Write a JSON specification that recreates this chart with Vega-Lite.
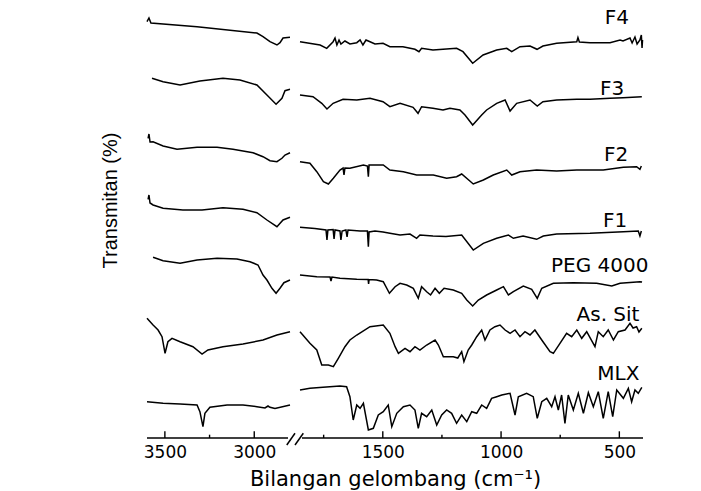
{
  "$schema": "https://vega.github.io/schema/vega-lite/v6.json",
  "width": 496,
  "height": 438,
  "autosize": "none",
  "padding": {"left": 147, "top": 0, "right": 58, "bottom": 53},
  "background": "white",
  "config": {"view": {"stroke": null}, "axis": {"grid": false}},
  "datasets": {
    "spectra": [
      {"s":"F4","p":"L","w":3600,"t":416.3},{"s":"F4","p":"L","w":3589,"t":420},{"s":"F4","p":"L","w":3578,"t":415},{"s":"F4","p":"L","w":3320,"t":411.2},{"s":"F4","p":"L","w":2985,"t":405},{"s":"F4","p":"L","w":2951,"t":401.3},{"s":"F4","p":"L","w":2912,"t":396.3},{"s":"F4","p":"L","w":2873,"t":393},{"s":"F4","p":"L","w":2856,"t":395.3},{"s":"F4","p":"L","w":2839,"t":400},{"s":"F4","p":"L","w":2800,"t":400.7},
      {"s":"F4","p":"R","w":1850,"t":396.3},{"s":"F4","p":"R","w":1765,"t":393},{"s":"F4","p":"R","w":1737,"t":389.7},{"s":"F4","p":"R","w":1710,"t":396.3},{"s":"F4","p":"R","w":1702,"t":400},{"s":"F4","p":"R","w":1694,"t":393},{"s":"F4","p":"R","w":1685,"t":398},{"s":"F4","p":"R","w":1677,"t":394},{"s":"F4","p":"R","w":1660,"t":397},{"s":"F4","p":"R","w":1639,"t":394},{"s":"F4","p":"R","w":1610,"t":395.3},{"s":"F4","p":"R","w":1596,"t":398},{"s":"F4","p":"R","w":1584,"t":393},{"s":"F4","p":"R","w":1571,"t":398},{"s":"F4","p":"R","w":1554,"t":396.3},{"s":"F4","p":"R","w":1533,"t":394},{"s":"F4","p":"R","w":1499,"t":394.7},{"s":"F4","p":"R","w":1470,"t":391.3},{"s":"F4","p":"R","w":1415,"t":391.3},{"s":"F4","p":"R","w":1364,"t":388.7},{"s":"F4","p":"R","w":1347,"t":386.3},{"s":"F4","p":"R","w":1336,"t":389.7},{"s":"F4","p":"R","w":1288,"t":388},{"s":"F4","p":"R","w":1245.5,"t":388.7},{"s":"F4","p":"R","w":1188,"t":389.7},{"s":"F4","p":"R","w":1161,"t":386.3},{"s":"F4","p":"R","w":1120,"t":374.7},{"s":"F4","p":"R","w":1076,"t":383},{"s":"F4","p":"R","w":1018.5,"t":388},{"s":"F4","p":"R","w":976,"t":389.7},{"s":"F4","p":"R","w":955,"t":386.3},{"s":"F4","p":"R","w":920,"t":391.3},{"s":"F4","p":"R","w":877.7,"t":392},{"s":"F4","p":"R","w":848,"t":388.7},{"s":"F4","p":"R","w":823,"t":392},{"s":"F4","p":"R","w":765,"t":394.7},{"s":"F4","p":"R","w":680,"t":396.3},{"s":"F4","p":"R","w":675,"t":400.5},{"s":"F4","p":"R","w":669,"t":396},{"s":"F4","p":"R","w":624,"t":395.3},{"s":"F4","p":"R","w":539.5,"t":395.3},{"s":"F4","p":"R","w":497,"t":398},{"s":"F4","p":"R","w":484.5,"t":397},{"s":"F4","p":"R","w":455,"t":400},{"s":"F4","p":"R","w":446,"t":395},{"s":"F4","p":"R","w":434,"t":401},{"s":"F4","p":"R","w":425,"t":394},{"s":"F4","p":"R","w":413,"t":398},{"s":"F4","p":"R","w":407,"t":403},{"s":"F4","p":"R","w":404,"t":390},{"s":"F4","p":"R","w":402,"t":398},

      {"s":"F3","p":"L","w":3572,"t":359.7},{"s":"F3","p":"L","w":3510,"t":356.3},{"s":"F3","p":"L","w":3415,"t":353},{"s":"F3","p":"L","w":3304,"t":357},{"s":"F3","p":"L","w":3175,"t":359.7},{"s":"F3","p":"L","w":3080,"t":358},{"s":"F3","p":"L","w":2985,"t":353},{"s":"F3","p":"L","w":2929,"t":343},{"s":"F3","p":"L","w":2878,"t":333.7},{"s":"F3","p":"L","w":2845,"t":339.7},{"s":"F3","p":"L","w":2828,"t":347.3},{"s":"F3","p":"L","w":2800,"t":348.7},
      {"s":"F3","p":"R","w":1850,"t":343},{"s":"F3","p":"R","w":1795,"t":341.3},{"s":"F3","p":"R","w":1758,"t":334.7},{"s":"F3","p":"R","w":1736,"t":329},{"s":"F3","p":"R","w":1710,"t":334.7},{"s":"F3","p":"R","w":1668,"t":338.7},{"s":"F3","p":"R","w":1610,"t":338},{"s":"F3","p":"R","w":1554,"t":339.7},{"s":"F3","p":"R","w":1499,"t":336.3},{"s":"F3","p":"R","w":1470,"t":331.3},{"s":"F3","p":"R","w":1427,"t":334.7},{"s":"F3","p":"R","w":1372,"t":330.7},{"s":"F3","p":"R","w":1351,"t":324.7},{"s":"F3","p":"R","w":1336,"t":331.3},{"s":"F3","p":"R","w":1288,"t":329.7},{"s":"F3","p":"R","w":1245.5,"t":328},{"s":"F3","p":"R","w":1216,"t":329.7},{"s":"F3","p":"R","w":1174,"t":328},{"s":"F3","p":"R","w":1152.5,"t":323},{"s":"F3","p":"R","w":1120,"t":313},{"s":"F3","p":"R","w":1082,"t":323},{"s":"F3","p":"R","w":1061,"t":328},{"s":"F3","p":"R","w":1018.5,"t":334.7},{"s":"F3","p":"R","w":983,"t":338},{"s":"F3","p":"R","w":962,"t":327},{"s":"F3","p":"R","w":934,"t":334.7},{"s":"F3","p":"R","w":877.7,"t":338},{"s":"F3","p":"R","w":847,"t":332},{"s":"F3","p":"R","w":823,"t":336.3},{"s":"F3","p":"R","w":765,"t":338},{"s":"F3","p":"R","w":680,"t":338.7},{"s":"F3","p":"R","w":624,"t":338.7},{"s":"F3","p":"R","w":539.5,"t":339.7},{"s":"F3","p":"R","w":484.5,"t":340.3},{"s":"F3","p":"R","w":405,"t":341.3},

      {"s":"F2","p":"L","w":3594,"t":299.7},{"s":"F2","p":"L","w":3589,"t":304},{"s":"F2","p":"L","w":3583,"t":296},{"s":"F2","p":"L","w":3566,"t":296.3},{"s":"F2","p":"L","w":3510,"t":292},{"s":"F2","p":"L","w":3432,"t":288.7},{"s":"F2","p":"L","w":3320,"t":290.7},{"s":"F2","p":"L","w":3208,"t":290.7},{"s":"F2","p":"L","w":3119,"t":288.7},{"s":"F2","p":"L","w":3007,"t":285.3},{"s":"F2","p":"L","w":2951,"t":281.3},{"s":"F2","p":"L","w":2912,"t":277.3},{"s":"F2","p":"L","w":2873,"t":276.3},{"s":"F2","p":"L","w":2845,"t":279.7},{"s":"F2","p":"L","w":2828,"t":283},{"s":"F2","p":"L","w":2800,"t":285.3},
      {"s":"F2","p":"R","w":1850,"t":276.3},{"s":"F2","p":"R","w":1808,"t":274.7},{"s":"F2","p":"R","w":1779,"t":266.3},{"s":"F2","p":"R","w":1751,"t":256.3},{"s":"F2","p":"R","w":1730,"t":254},{"s":"F2","p":"R","w":1709,"t":259.7},{"s":"F2","p":"R","w":1681,"t":268},{"s":"F2","p":"R","w":1668,"t":270},{"s":"F2","p":"R","w":1664,"t":263},{"s":"F2","p":"R","w":1660,"t":270},{"s":"F2","p":"R","w":1639,"t":269.7},{"s":"F2","p":"R","w":1582,"t":273},{"s":"F2","p":"R","w":1565,"t":272},{"s":"F2","p":"R","w":1561,"t":261.3},{"s":"F2","p":"R","w":1558,"t":273},{"s":"F2","p":"R","w":1498,"t":273},{"s":"F2","p":"R","w":1470,"t":268},{"s":"F2","p":"R","w":1413,"t":266.3},{"s":"F2","p":"R","w":1357,"t":263},{"s":"F2","p":"R","w":1286.5,"t":263},{"s":"F2","p":"R","w":1230,"t":259.7},{"s":"F2","p":"R","w":1188,"t":261.3},{"s":"F2","p":"R","w":1166.5,"t":264},{"s":"F2","p":"R","w":1117.5,"t":254},{"s":"F2","p":"R","w":1075,"t":258},{"s":"F2","p":"R","w":1033,"t":263},{"s":"F2","p":"R","w":976,"t":268},{"s":"F2","p":"R","w":955,"t":263},{"s":"F2","p":"R","w":920,"t":266.3},{"s":"F2","p":"R","w":849.5,"t":268},{"s":"F2","p":"R","w":765,"t":267},{"s":"F2","p":"R","w":680,"t":268},{"s":"F2","p":"R","w":568,"t":268},{"s":"F2","p":"R","w":483,"t":270.7},{"s":"F2","p":"R","w":427,"t":271.3},{"s":"F2","p":"R","w":413,"t":268.7},{"s":"F2","p":"R","w":407,"t":272},

      {"s":"F1","p":"L","w":3594,"t":238.7},{"s":"F1","p":"L","w":3589,"t":243},{"s":"F1","p":"L","w":3583,"t":235},{"s":"F1","p":"L","w":3566,"t":233},{"s":"F1","p":"L","w":3510,"t":229.7},{"s":"F1","p":"L","w":3399,"t":228},{"s":"F1","p":"L","w":3292,"t":228},{"s":"F1","p":"L","w":3175,"t":230.3},{"s":"F1","p":"L","w":3063,"t":228.7},{"s":"F1","p":"L","w":2985,"t":225.3},{"s":"F1","p":"L","w":2929,"t":218},{"s":"F1","p":"L","w":2873,"t":211.3},{"s":"F1","p":"L","w":2839,"t":218},{"s":"F1","p":"L","w":2800,"t":220.7},
      {"s":"F1","p":"R","w":1850,"t":210.7},{"s":"F1","p":"R","w":1787,"t":209.5},{"s":"F1","p":"R","w":1740,"t":208},{"s":"F1","p":"R","w":1736,"t":198},{"s":"F1","p":"R","w":1732,"t":208},{"s":"F1","p":"R","w":1710,"t":208.5},{"s":"F1","p":"R","w":1706,"t":199},{"s":"F1","p":"R","w":1702,"t":208},{"s":"F1","p":"R","w":1681,"t":207},{"s":"F1","p":"R","w":1677,"t":198},{"s":"F1","p":"R","w":1672,"t":207},{"s":"F1","p":"R","w":1656,"t":208},{"s":"F1","p":"R","w":1651,"t":201},{"s":"F1","p":"R","w":1647,"t":208},{"s":"F1","p":"R","w":1596,"t":207},{"s":"F1","p":"R","w":1565,"t":207},{"s":"F1","p":"R","w":1561,"t":191.3},{"s":"F1","p":"R","w":1558,"t":206},{"s":"F1","p":"R","w":1533,"t":207},{"s":"F1","p":"R","w":1499,"t":206},{"s":"F1","p":"R","w":1470,"t":204.7},{"s":"F1","p":"R","w":1427,"t":203},{"s":"F1","p":"R","w":1385,"t":204},{"s":"F1","p":"R","w":1357,"t":199.7},{"s":"F1","p":"R","w":1343,"t":203},{"s":"F1","p":"R","w":1288,"t":202},{"s":"F1","p":"R","w":1233,"t":201.5},{"s":"F1","p":"R","w":1166.5,"t":203},{"s":"F1","p":"R","w":1117.5,"t":188},{"s":"F1","p":"R","w":1075,"t":194.7},{"s":"F1","p":"R","w":1018.5,"t":199.7},{"s":"F1","p":"R","w":969,"t":203},{"s":"F1","p":"R","w":948,"t":199.7},{"s":"F1","p":"R","w":907,"t":202},{"s":"F1","p":"R","w":849.5,"t":198.7},{"s":"F1","p":"R","w":821.5,"t":202},{"s":"F1","p":"R","w":765,"t":204},{"s":"F1","p":"R","w":624,"t":204.7},{"s":"F1","p":"R","w":483,"t":206.3},{"s":"F1","p":"R","w":420,"t":207},{"s":"F1","p":"R","w":413,"t":202},{"s":"F1","p":"R","w":407,"t":207},

      {"s":"PEG 4000","p":"L","w":3566,"t":180.7},{"s":"PEG 4000","p":"L","w":3510,"t":177.3},{"s":"PEG 4000","p":"L","w":3415,"t":174.7},{"s":"PEG 4000","p":"L","w":3320,"t":178},{"s":"PEG 4000","p":"L","w":3208,"t":179.7},{"s":"PEG 4000","p":"L","w":3097,"t":179},{"s":"PEG 4000","p":"L","w":3024,"t":176.3},{"s":"PEG 4000","p":"L","w":2979,"t":173},{"s":"PEG 4000","p":"L","w":2951,"t":163},{"s":"PEG 4000","p":"L","w":2929,"t":158},{"s":"PEG 4000","p":"L","w":2901,"t":149.7},{"s":"PEG 4000","p":"L","w":2878,"t":144.7},{"s":"PEG 4000","p":"L","w":2856,"t":149.7},{"s":"PEG 4000","p":"L","w":2834,"t":155.3},{"s":"PEG 4000","p":"L","w":2800,"t":158},
      {"s":"PEG 4000","p":"R","w":1850,"t":163},{"s":"PEG 4000","p":"R","w":1779,"t":161.3},{"s":"PEG 4000","p":"R","w":1723,"t":161},{"s":"PEG 4000","p":"R","w":1719,"t":157},{"s":"PEG 4000","p":"R","w":1715,"t":161},{"s":"PEG 4000","p":"R","w":1681,"t":159.7},{"s":"PEG 4000","p":"R","w":1610,"t":158.7},{"s":"PEG 4000","p":"R","w":1562,"t":158.5},{"s":"PEG 4000","p":"R","w":1560,"t":154},{"s":"PEG 4000","p":"R","w":1558,"t":158.5},{"s":"PEG 4000","p":"R","w":1526,"t":158},{"s":"PEG 4000","p":"R","w":1498,"t":156.3},{"s":"PEG 4000","p":"R","w":1472,"t":144.7},{"s":"PEG 4000","p":"R","w":1448,"t":151.3},{"s":"PEG 4000","p":"R","w":1427,"t":154.7},{"s":"PEG 4000","p":"R","w":1399,"t":153},{"s":"PEG 4000","p":"R","w":1371,"t":149.7},{"s":"PEG 4000","p":"R","w":1350,"t":139.7},{"s":"PEG 4000","p":"R","w":1336,"t":151.3},{"s":"PEG 4000","p":"R","w":1314.5,"t":146.3},{"s":"PEG 4000","p":"R","w":1298,"t":143},{"s":"PEG 4000","p":"R","w":1279,"t":149.7},{"s":"PEG 4000","p":"R","w":1261,"t":144.7},{"s":"PEG 4000","p":"R","w":1241,"t":149.7},{"s":"PEG 4000","p":"R","w":1202,"t":148},{"s":"PEG 4000","p":"R","w":1166.5,"t":144.7},{"s":"PEG 4000","p":"R","w":1145,"t":138},{"s":"PEG 4000","p":"R","w":1120,"t":132},{"s":"PEG 4000","p":"R","w":1096,"t":138},{"s":"PEG 4000","p":"R","w":1061,"t":143},{"s":"PEG 4000","p":"R","w":1018.5,"t":148},{"s":"PEG 4000","p":"R","w":990,"t":151.3},{"s":"PEG 4000","p":"R","w":969,"t":143},{"s":"PEG 4000","p":"R","w":948,"t":146.3},{"s":"PEG 4000","p":"R","w":906,"t":152},{"s":"PEG 4000","p":"R","w":870.5,"t":148.7},{"s":"PEG 4000","p":"R","w":847,"t":139.7},{"s":"PEG 4000","p":"R","w":828,"t":149.7},{"s":"PEG 4000","p":"R","w":779,"t":154.7},{"s":"PEG 4000","p":"R","w":694.5,"t":155.3},{"s":"PEG 4000","p":"R","w":596,"t":154.7},{"s":"PEG 4000","p":"R","w":532,"t":152},{"s":"PEG 4000","p":"R","w":497,"t":154.7},{"s":"PEG 4000","p":"R","w":413,"t":156.3},{"s":"PEG 4000","p":"R","w":404,"t":156},

      {"s":"As. Sit","p":"L","w":3600,"t":119.7},{"s":"As. Sit","p":"L","w":3566,"t":113},{"s":"As. Sit","p":"L","w":3538,"t":108},{"s":"As. Sit","p":"L","w":3516,"t":101.3},{"s":"As. Sit","p":"L","w":3499,"t":84.7},{"s":"As. Sit","p":"L","w":3483,"t":96.3},{"s":"As. Sit","p":"L","w":3460,"t":99.7},{"s":"As. Sit","p":"L","w":3415,"t":96.3},{"s":"As. Sit","p":"L","w":3343,"t":91.3},{"s":"As. Sit","p":"L","w":3292,"t":84},{"s":"As. Sit","p":"L","w":3259,"t":88},{"s":"As. Sit","p":"L","w":3175,"t":91.3},{"s":"As. Sit","p":"L","w":3063,"t":94},{"s":"As. Sit","p":"L","w":2951,"t":98},{"s":"As. Sit","p":"L","w":2873,"t":103},{"s":"As. Sit","p":"L","w":2800,"t":106.3},
      {"s":"As. Sit","p":"R","w":1850,"t":106.3},{"s":"As. Sit","p":"R","w":1808,"t":94.7},{"s":"As. Sit","p":"R","w":1779,"t":88},{"s":"As. Sit","p":"R","w":1758,"t":73},{"s":"As. Sit","p":"R","w":1730,"t":73},{"s":"As. Sit","p":"R","w":1709,"t":71.3},{"s":"As. Sit","p":"R","w":1688,"t":79.7},{"s":"As. Sit","p":"R","w":1660,"t":91.3},{"s":"As. Sit","p":"R","w":1639,"t":98},{"s":"As. Sit","p":"R","w":1610,"t":103},{"s":"As. Sit","p":"R","w":1554,"t":111.3},{"s":"As. Sit","p":"R","w":1498,"t":113},{"s":"As. Sit","p":"R","w":1470,"t":104.7},{"s":"As. Sit","p":"R","w":1448,"t":91.3},{"s":"As. Sit","p":"R","w":1434,"t":84.7},{"s":"As. Sit","p":"R","w":1406,"t":89.7},{"s":"As. Sit","p":"R","w":1385,"t":86.3},{"s":"As. Sit","p":"R","w":1364,"t":91.3},{"s":"As. Sit","p":"R","w":1343,"t":88},{"s":"As. Sit","p":"R","w":1314.5,"t":93},{"s":"As. Sit","p":"R","w":1279,"t":98},{"s":"As. Sit","p":"R","w":1265,"t":93},{"s":"As. Sit","p":"R","w":1244,"t":81.3},{"s":"As. Sit","p":"R","w":1202,"t":81.3},{"s":"As. Sit","p":"R","w":1183,"t":80},{"s":"As. Sit","p":"R","w":1166.5,"t":86.3},{"s":"As. Sit","p":"R","w":1157,"t":76.3},{"s":"As. Sit","p":"R","w":1139,"t":88},{"s":"As. Sit","p":"R","w":1124,"t":93},{"s":"As. Sit","p":"R","w":1103,"t":101.3},{"s":"As. Sit","p":"R","w":1082,"t":108},{"s":"As. Sit","p":"R","w":1068,"t":98},{"s":"As. Sit","p":"R","w":1047,"t":108},{"s":"As. Sit","p":"R","w":1026,"t":111.3},{"s":"As. Sit","p":"R","w":1004.5,"t":113},{"s":"As. Sit","p":"R","w":983,"t":108},{"s":"As. Sit","p":"R","w":962,"t":104.7},{"s":"As. Sit","p":"R","w":941,"t":108},{"s":"As. Sit","p":"R","w":920,"t":101.3},{"s":"As. Sit","p":"R","w":899,"t":106.3},{"s":"As. Sit","p":"R","w":877.7,"t":103},{"s":"As. Sit","p":"R","w":857,"t":108},{"s":"As. Sit","p":"R","w":828,"t":98},{"s":"As. Sit","p":"R","w":793,"t":86.3},{"s":"As. Sit","p":"R","w":779,"t":84.7},{"s":"As. Sit","p":"R","w":751,"t":94.7},{"s":"As. Sit","p":"R","w":723,"t":104.7},{"s":"As. Sit","p":"R","w":701.5,"t":101.3},{"s":"As. Sit","p":"R","w":680,"t":108},{"s":"As. Sit","p":"R","w":659,"t":99.7},{"s":"As. Sit","p":"R","w":638,"t":106.3},{"s":"As. Sit","p":"R","w":603,"t":91.3},{"s":"As. Sit","p":"R","w":589,"t":106.3},{"s":"As. Sit","p":"R","w":568,"t":101.3},{"s":"As. Sit","p":"R","w":547,"t":108},{"s":"As. Sit","p":"R","w":525,"t":98},{"s":"As. Sit","p":"R","w":504.5,"t":106.3},{"s":"As. Sit","p":"R","w":476,"t":108},{"s":"As. Sit","p":"R","w":455,"t":114.7},{"s":"As. Sit","p":"R","w":442,"t":110},{"s":"As. Sit","p":"R","w":427,"t":111.3},{"s":"As. Sit","p":"R","w":417,"t":106},{"s":"As. Sit","p":"R","w":405,"t":109.7},

      {"s":"MLX","p":"L","w":3600,"t":36.3},{"s":"MLX","p":"L","w":3510,"t":34.7},{"s":"MLX","p":"L","w":3415,"t":34},{"s":"MLX","p":"L","w":3320,"t":33},{"s":"MLX","p":"L","w":3304,"t":26.3},{"s":"MLX","p":"L","w":3287,"t":11.3},{"s":"MLX","p":"L","w":3276,"t":24.7},{"s":"MLX","p":"L","w":3248,"t":30.7},{"s":"MLX","p":"L","w":3152,"t":33},{"s":"MLX","p":"L","w":3063,"t":33},{"s":"MLX","p":"L","w":2985,"t":31.3},{"s":"MLX","p":"L","w":2940,"t":30},{"s":"MLX","p":"L","w":2923,"t":32},{"s":"MLX","p":"L","w":2912,"t":30.7},{"s":"MLX","p":"L","w":2884,"t":29.5},{"s":"MLX","p":"L","w":2800,"t":33},
      {"s":"MLX","p":"R","w":1850,"t":48},{"s":"MLX","p":"R","w":1808,"t":49.7},{"s":"MLX","p":"R","w":1753,"t":50.7},{"s":"MLX","p":"R","w":1681,"t":52},{"s":"MLX","p":"R","w":1653,"t":51.3},{"s":"MLX","p":"R","w":1639,"t":41.3},{"s":"MLX","p":"R","w":1625,"t":18},{"s":"MLX","p":"R","w":1610,"t":33},{"s":"MLX","p":"R","w":1596,"t":29.7},{"s":"MLX","p":"R","w":1582,"t":34.7},{"s":"MLX","p":"R","w":1561,"t":8},{"s":"MLX","p":"R","w":1540,"t":9.7},{"s":"MLX","p":"R","w":1519,"t":23},{"s":"MLX","p":"R","w":1498,"t":26.3},{"s":"MLX","p":"R","w":1477,"t":33},{"s":"MLX","p":"R","w":1462,"t":11.3},{"s":"MLX","p":"R","w":1441,"t":24.7},{"s":"MLX","p":"R","w":1413,"t":31.3},{"s":"MLX","p":"R","w":1385,"t":33},{"s":"MLX","p":"R","w":1364,"t":28},{"s":"MLX","p":"R","w":1350,"t":9.7},{"s":"MLX","p":"R","w":1336,"t":24.7},{"s":"MLX","p":"R","w":1314.5,"t":21.3},{"s":"MLX","p":"R","w":1293,"t":28},{"s":"MLX","p":"R","w":1272,"t":13},{"s":"MLX","p":"R","w":1251,"t":23},{"s":"MLX","p":"R","w":1230,"t":28},{"s":"MLX","p":"R","w":1209,"t":24.7},{"s":"MLX","p":"R","w":1188,"t":14.7},{"s":"MLX","p":"R","w":1166.5,"t":23},{"s":"MLX","p":"R","w":1145,"t":16.3},{"s":"MLX","p":"R","w":1124,"t":26.3},{"s":"MLX","p":"R","w":1103,"t":24.7},{"s":"MLX","p":"R","w":1082,"t":33},{"s":"MLX","p":"R","w":1061,"t":29.7},{"s":"MLX","p":"R","w":1040,"t":39.7},{"s":"MLX","p":"R","w":1018.5,"t":41.3},{"s":"MLX","p":"R","w":997,"t":43},{"s":"MLX","p":"R","w":962,"t":44.7},{"s":"MLX","p":"R","w":941,"t":23},{"s":"MLX","p":"R","w":927,"t":41.3},{"s":"MLX","p":"R","w":892,"t":44.7},{"s":"MLX","p":"R","w":864,"t":41.3},{"s":"MLX","p":"R","w":847,"t":19.7},{"s":"MLX","p":"R","w":828,"t":36.3},{"s":"MLX","p":"R","w":807,"t":39.7},{"s":"MLX","p":"R","w":786,"t":31.3},{"s":"MLX","p":"R","w":772,"t":41.3},{"s":"MLX","p":"R","w":758,"t":28},{"s":"MLX","p":"R","w":744,"t":43},{"s":"MLX","p":"R","w":730,"t":14.7},{"s":"MLX","p":"R","w":716,"t":43},{"s":"MLX","p":"R","w":694.5,"t":28},{"s":"MLX","p":"R","w":673.5,"t":44.7},{"s":"MLX","p":"R","w":652,"t":24.7},{"s":"MLX","p":"R","w":631,"t":45.3},{"s":"MLX","p":"R","w":610,"t":31.3},{"s":"MLX","p":"R","w":589,"t":46.3},{"s":"MLX","p":"R","w":568,"t":19.7},{"s":"MLX","p":"R","w":547,"t":46.3},{"s":"MLX","p":"R","w":528,"t":21.3},{"s":"MLX","p":"R","w":511,"t":48},{"s":"MLX","p":"R","w":483,"t":39.7},{"s":"MLX","p":"R","w":462,"t":49.7},{"s":"MLX","p":"R","w":448,"t":36.3},{"s":"MLX","p":"R","w":434,"t":48},{"s":"MLX","p":"R","w":420,"t":44.7},{"s":"MLX","p":"R","w":405,"t":50.7}
    ],
    "labels": [
      {"label":"F4","w":510,"t":420},
      {"label":"F3","w":531,"t":349},
      {"label":"F2","w":514,"t":283},
      {"label":"F1","w":518,"t":217},
      {"label":"PEG 4000","w":583,"t":172},
      {"label":"As. Sit","w":548,"t":123},
      {"label":"MLX","w":504,"t":64}
    ],
    "axisline": [
      {"w1":3600,"w2":2811},
      {"w1":1841.5,"w2":400}
    ],
    "breaks": [
      {"w1":2818,"t1":-7,"w2":2325,"t2":4.7},
      {"w1":2325,"t1":-7,"w2":1836,"t2":4.7}
    ],
    "major": [{"w":3500},{"w":3000},{"w":1500},{"w":1000},{"w":500}],
    "minor": [{"w":3250},{"w":1750},{"w":1250},{"w":750}]
  },
  "layer": [
    {
      "data": {"name": "spectra"},
      "mark": {"type": "line", "color": "black", "strokeWidth": 1.5},
      "encoding": {
        "x": {
          "field": "w", "type": "quantitative",
          "scale": {"domain": [3600, 2800, 1850, 400], "range": [0, 143, 153, 496], "nice": false, "zero": false},
          "axis": {
            "values": [3500, 3000, 1500, 1000, 500],
            "format": "d",
            "ticks": false, "domain": false, "grid": false,
            "labelPadding": 6, "labelFont": "DejaVu Sans", "labelFontSize": 17, "labelColor": "black",
            "labelFlush": false, "labelOverlap": false,
            "title": "Bilangan gelombang (cm⁻¹)",
            "titleFont": "DejaVu Sans", "titleFontSize": 21, "titleFontWeight": "normal", "titleColor": "black",
            "titleBaseline": "top", "titleY": 30
          }
        },
        "y": {
          "field": "t", "type": "quantitative",
          "scale": {"domain": [0, 438], "nice": false, "zero": false},
          "axis": {
            "domain": false, "ticks": false, "labels": false, "grid": false,
            "title": "Transmitan (%)",
            "titleFont": "Liberation Sans Narrow, Liberation Sans", "titleFontSize": 20, "titleFontWeight": "normal", "titleColor": "black",
            "titleX": -31, "titleY": 200, "titleBaseline": "alphabetic", "titleAngle": -90
          }
        },
        "detail": [{"field": "s"}, {"field": "p"}]
      }
    },
    {
      "data": {"name": "labels"},
      "mark": {"type": "text", "font": "DejaVu Sans", "fontSize": 20, "color": "black", "align": "center", "baseline": "middle"},
      "encoding": {
        "x": {"field": "w", "type": "quantitative"},
        "y": {"field": "t", "type": "quantitative"},
        "text": {"field": "label"}
      }
    },
    {
      "data": {"name": "axisline"},
      "mark": {"type": "rule", "color": "black", "strokeWidth": 1.4},
      "encoding": {
        "x": {"field": "w1", "type": "quantitative"},
        "x2": {"field": "w2"},
        "y": {"datum": 0}
      }
    },
    {
      "data": {"name": "breaks"},
      "mark": {"type": "rule", "color": "black", "strokeWidth": 1.5},
      "encoding": {
        "x": {"field": "w1", "type": "quantitative"},
        "x2": {"field": "w2"},
        "y": {"field": "t1", "type": "quantitative"},
        "y2": {"field": "t2"}
      }
    },
    {
      "data": {"name": "major"},
      "mark": {"type": "rule", "color": "black", "strokeWidth": 1.4},
      "encoding": {
        "x": {"field": "w", "type": "quantitative"},
        "y": {"datum": 0},
        "y2": {"datum": 6.7}
      }
    },
    {
      "data": {"name": "minor"},
      "mark": {"type": "rule", "color": "black", "strokeWidth": 1.4},
      "encoding": {
        "x": {"field": "w", "type": "quantitative"},
        "y": {"datum": 0},
        "y2": {"datum": 3.3}
      }
    }
  ]
}
